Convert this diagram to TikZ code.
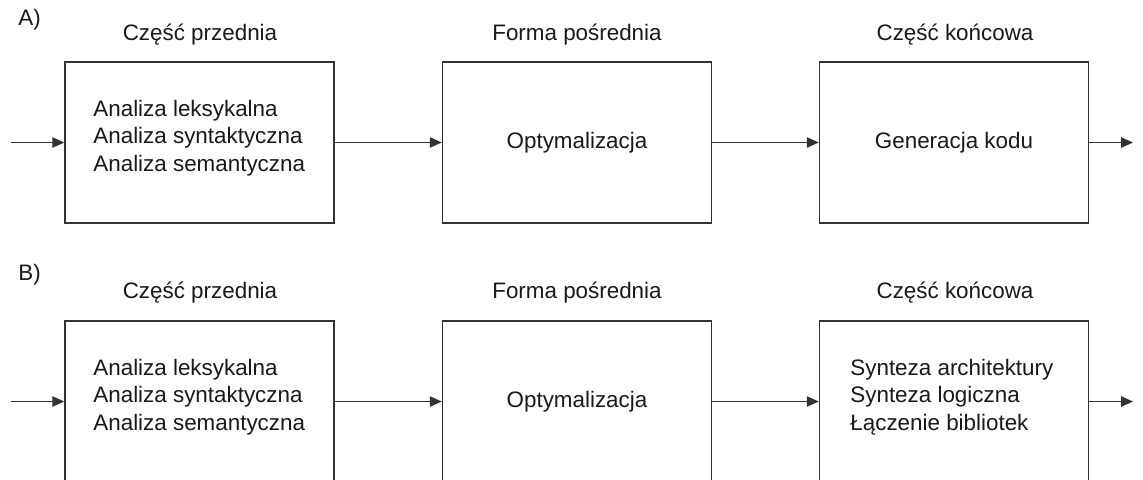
\documentclass[tikz,border=0pt]{standalone}
\usepackage{fontspec}
\setmainfont{Liberation Sans}
\usetikzlibrary{arrows.meta}
\begin{document}
\begin{tikzpicture}[x=0.5pt,y=-0.5pt,
  stage/.style={draw=black!80, line width=0.7pt, minimum width=134.5pt, minimum height=80.5pt, inner sep=0pt},
  flow/.style={draw=black!80, line width=0.7pt, -{Triangle[length=6pt,width=5.2pt]}},
  lbl/.style={font=\fontsize{11.2pt}{13.6pt}\selectfont, text=black!90, inner sep=0pt},
  steps/.style={lbl, align=left, anchor=west}]
\useasboundingbox (0,0) rectangle (1143,479);
\clip (0,0) rectangle (1143,479);
\fill[white] (0,0) rectangle (1143,479);

% ---- variant A: software compiler ----
\node[lbl, anchor=west] (la) at (18,20) {A)};
\node[lbl] (ta1) at (200,35) {Część przednia};
\node[lbl] (ta2) at (577,35) {Forma pośrednia};
\node[lbl] (ta3) at (955,35) {Część końcowa};

\node[stage] (a1) at (199.5,142.5) {};
\node[stage] (a2) at (577,142.5) {};
\node[stage] (a3) at (954,142.5) {};

\node[steps] (sa1) at (93,138) {Analiza leksykalna\\Analiza syntaktyczna\\Analiza semantyczna};
\node[lbl] (sa2) at (577,143) {Optymalizacja};
\node[lbl] (sa3) at (954,143) {Generacja kodu};

\coordinate (ina) at (11,142.5);
\coordinate (outa) at (1133,142.5);
\draw[flow] (ina) -- (a1.west);
\draw[flow] (a1.east) -- (a2.west);
\draw[flow] (a2.east) -- (a3.west);
\draw[flow] (a3.east) -- (outa);

% ---- variant B: hardware synthesis ----
\node[lbl, anchor=west] (lb) at (18,275) {B)};
\node[lbl] (tb1) at (200,293) {Część przednia};
\node[lbl] (tb2) at (577,293) {Forma pośrednia};
\node[lbl] (tb3) at (955,293) {Część końcowa};

\node[stage] (b1) at (199.5,401.5) {};
\node[stage] (b2) at (577,401.5) {};
\node[stage] (b3) at (954,401.5) {};

\node[steps] (sb1) at (93,397) {Analiza leksykalna\\Analiza syntaktyczna\\Analiza semantyczna};
\node[lbl] (sb2) at (577,402) {Optymalizacja};
\node[steps] (sb3) at (850,397) {Synteza architektury\\Synteza logiczna\\Łączenie bibliotek};

\coordinate (inb) at (11,401.5);
\coordinate (outb) at (1133,401.5);
\draw[flow] (inb) -- (b1.west);
\draw[flow] (b1.east) -- (b2.west);
\draw[flow] (b2.east) -- (b3.west);
\draw[flow] (b3.east) -- (outb);
\end{tikzpicture}
\end{document}
